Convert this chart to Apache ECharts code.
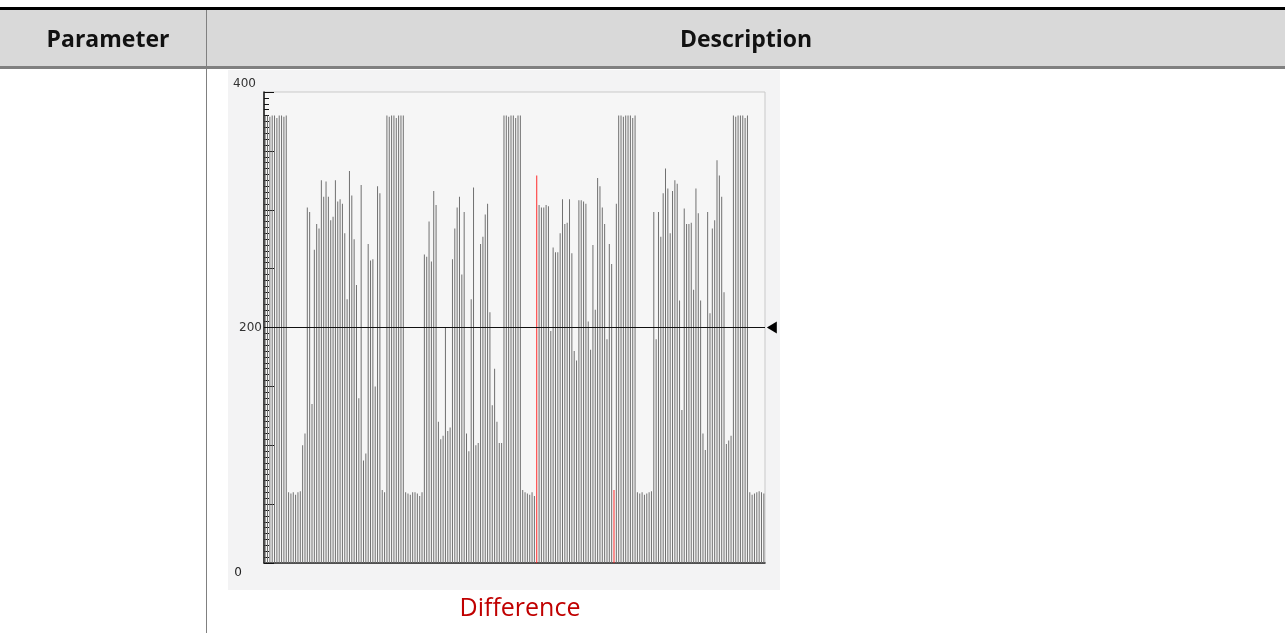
<!DOCTYPE html>
<html>
<head>
<meta charset="utf-8">
<script src="https://cdn.jsdelivr.net/npm/echarts@6/dist/echarts.min.js"></script>
<style>
html,body{margin:0;padding:0;background:#ffffff;}
#chart{width:1285px;height:633px;}
</style>
</head>
<body>
<div id="chart"></div>
<script>
// ---- data ----
const histogramValues = [
  380,380,379,380,380,378,380,380,379,380,
  60,59,60,58,60,61,
  100,110,302,298,135,266,288,284,325,311,
  324,311,291,294,325,307,309,305,280,224,
  333,312,275,236,140,321,87,93,271,257,
  258,150,320,314,
  62,60,
  380,379,380,380,378,380,380,380,
  60,59,58,60,60,59,57,60,
  262,260,290,256,316,304,120,105,108,200,
  112,115,258,284,302,311,245,298,110,95,
  224,319,100,102,271,277,296,305,213,134,
  165,120,102,102,
  380,380,379,380,380,378,380,380,
  62,60,59,58,60,57,
  329,
  304,302,302,304,303,197,268,264,264,280,
  309,288,289,309,263,180,172,308,308,307,
  305,205,181,270,215,327,320,302,288,190,
  271,254,
  62,
  305,
  380,380,379,380,380,380,378,380,
  60,59,60,58,59,60,61,
  298,190,298,277,314,335,318,280,316,325,
  322,223,130,301,288,288,289,232,318,297,
  223,110,96,298,212,284,291,342,329,311,
  230,101,104,108,
  380,379,380,380,380,378,380,
  60,58,59,60,61,60,59
];
const highlightedBars = [116, 149];
const thresholdValue = 200;
const yLabelValues = [0, 200, 400];
const headerLabels = ['Parameter', 'Description'];
const captionText = 'Difference';

const categories = histogramValues.map((v, i) => String(i));
const barData = histogramValues.map((v, i) =>
  highlightedBars.includes(i) ? { value: v, itemStyle: { color: '#ff2a2a' } } : v
);

const chart = echarts.init(document.getElementById('chart'), null, { renderer: 'canvas' });

chart.setOption({
  animation: false,
  backgroundColor: '#ffffff',
  grid: {
    left: 264, right: 520, top: 92, bottom: 70,
    show: true, backgroundColor: '#f6f6f6', borderColor: '#c9c9c9', borderWidth: 1
  },
  xAxis: {
    type: 'category',
    data: categories,
    boundaryGap: true,
    axisLine: { show: true, lineStyle: { color: '#222', width: 1.5 } },
    axisTick: { show: false },
    axisLabel: { show: false },
    splitLine: { show: false }
  },
  yAxis: {
    type: 'value',
    min: 0, max: 400, interval: 50,
    axisLine: { show: true, lineStyle: { color: '#111', width: 1.5 } },
    axisTick: { show: true, inside: true, length: 10, lineStyle: { color: '#111' } },
    minorTick: { show: true, splitNumber: 10, length: 5, lineStyle: { color: '#111' } },
    splitLine: { show: false },
    axisLabel: {
      margin: 2,
      fontFamily: 'DejaVu Sans',
      fontSize: 12,
      color: '#333',
      formatter: function (v) {
        if (!yLabelValues.includes(v)) return '';
        if (v === 400) return '{top|' + v + '}';
        if (v === 0) return '{bot|' + v + '}';
        return '{mid|' + v + '}';
      },
      rich: {
        top: { fontFamily: 'DejaVu Sans', fontSize: 12, color: '#333', padding: [0, 6, 16, 0] },
        mid: { fontFamily: 'DejaVu Sans', fontSize: 12, color: '#333', padding: [0, 0, 0, 0] },
        bot: { fontFamily: 'DejaVu Sans', fontSize: 12, color: '#222', padding: [20, 20, 0, 0] }
      }
    }
  },
  series: [{
    type: 'bar',
    data: barData,
    barWidth: 1,
    itemStyle: { color: '#707070' },
    markLine: {
      silent: true,
      symbol: ['none', 'none'],
      label: { show: false },
      lineStyle: { color: '#111', width: 1, type: 'solid' },
      data: [{ yAxis: thresholdValue }]
    },
    markPoint: {
      silent: true,
      symbol: 'triangle',
      symbolSize: [12, 10],
      symbolRotate: 90,
      symbolOffset: [8, 0],
      label: { show: false },
      itemStyle: { color: '#000' },
      data: [{ coord: [categories.length - 1, thresholdValue] }]
    }
  }],
  graphic: [
    { type: 'rect', z: -10, shape: { x: 228, y: 70, width: 552, height: 520 }, style: { fill: '#f3f3f4' } },
    { type: 'rect', z: -5, shape: { x: 0, y: 10, width: 1285, height: 57 }, style: { fill: '#d9d9d9' } },
    { type: 'rect', z: -4, shape: { x: 0, y: 7, width: 1285, height: 3 }, style: { fill: '#000' } },
    { type: 'rect', z: -4, shape: { x: 0, y: 66, width: 1285, height: 3 }, style: { fill: '#808080' } },
    { type: 'rect', z: -4, shape: { x: 206, y: 10, width: 1, height: 623 }, style: { fill: '#808080' } },
    { type: 'text', z: 5, style: { text: headerLabels[0], x: 108, y: 40, textAlign: 'center', textVerticalAlign: 'middle', font: 'bold 23px "Open Sans"', fill: '#111' } },
    { type: 'text', z: 5, style: { text: headerLabels[1], x: 746, y: 40, textAlign: 'center', textVerticalAlign: 'middle', font: 'bold 23px "Open Sans"', fill: '#111' } },
    { type: 'text', z: 5, style: { text: captionText, x: 520, y: 609, textAlign: 'center', textVerticalAlign: 'middle', font: '25px "Open Sans"', fill: '#c00000' } }
  ]
});
</script>
</body>
</html>
